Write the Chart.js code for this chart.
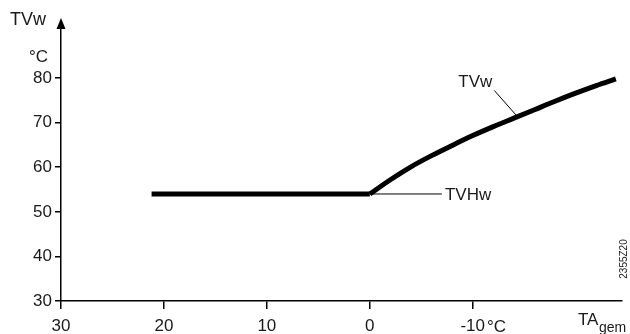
<!DOCTYPE html>
<html>
<head>
<meta charset="utf-8">
<script src="https://cdn.jsdelivr.net/npm/chart.js@4.4.0/dist/chart.umd.min.js"></script>
<style>
  html, body { margin: 0; padding: 0; background: #fff; }
  #wrap { width: 630px; height: 334px; }
</style>
</head>
<body>
<div id="wrap"><canvas id="chart"></canvas></div>
<script>
// flat part (TVHw) and rising part (TVw), outside temp TAgem in °C
const flatX = [21.2, 0];
const flatY = [54, 54];
const curveX = [0, -2, -4, -6, -8, -10, -12, -14, -16, -18, -20, -22, -23.9];
const curveY = [54, 57.2, 60.1, 62.6, 64.9, 67.1, 69.1, 71.0, 72.9, 74.8, 76.6, 78.3, 79.8];
const xTicks = [30, 20, 10, 0, -10];
const yTicks = [30, 40, 50, 60, 70, 80];
// leader lines for the two labels
const tvwLeadX = [-12.1, -14.4];
const tvwLeadY = [77.2, 71.2];
const tvhwLeadX = [0, -7];
const tvhwLeadY = [54, 54];

const FONT = 'Liberation Sans, Arial, sans-serif';
const INK = '#1a1a1a';

function pts(xs, ys) {
    return xs.map((x, i) => ({ x: x, y: ys[i] }));
}

const extras = {
    id: 'extras',
    afterDraw(chart) {
        const ctx = chart.ctx;
        const xs = chart.scales.x;
        const ys = chart.scales.y;
        const area = chart.chartArea;
        ctx.save();
        ctx.fillStyle = '#000';
        // arrow on top of y axis
        ctx.beginPath();
        ctx.moveTo(area.left, area.top - 11);
        ctx.lineTo(area.left - 4.5, area.top);
        ctx.lineTo(area.left + 4.5, area.top);
        ctx.closePath();
        ctx.fill();

        ctx.fillStyle = INK;
        ctx.textBaseline = 'middle';
        ctx.textAlign = 'left';
        ctx.font = '18px ' + FONT;
        ctx.fillText('TVw', 10, 20);
        ctx.font = '17px ' + FONT;
        ctx.fillText('°C', 29, 57);

        // curve labels
        ctx.fillText('TVw', xs.getPixelForValue(-8.6), ys.getPixelForValue(79.0));
        ctx.fillText('TVHw', xs.getPixelForValue(-7.3), ys.getPixelForValue(54) + 1);

        // unit after -10
        ctx.fillText('°C', 487, 327);

        // axis name
        ctx.fillText('TA', 578, 320);
        ctx.font = '14px ' + FONT;
        ctx.fillText('gem', 599, 328);

        // drawing number
        ctx.translate(624, 259);
        ctx.rotate(-Math.PI / 2);
        ctx.textAlign = 'center';
        ctx.font = '10px ' + FONT;
        ctx.fillText('2355Z20', 0, 0);
        ctx.restore();
    }
};

new Chart(document.getElementById('chart'), {
    type: 'line',
    data: {
        datasets: [{
            data: pts(flatX, flatY),
            borderColor: '#000',
            borderWidth: 5,
            borderCapStyle: 'butt',
            pointRadius: 0,
            tension: 0
        }, {
            data: pts(curveX, curveY),
            borderColor: '#000',
            borderWidth: 5,
            borderCapStyle: 'butt',
            pointRadius: 0,
            cubicInterpolationMode: 'monotone'
        }, {
            data: pts(tvwLeadX, tvwLeadY),
            borderColor: '#000',
            borderWidth: 1,
            pointRadius: 0
        }, {
            data: pts(tvhwLeadX, tvhwLeadY),
            borderColor: '#000',
            borderWidth: 1,
            pointRadius: 0
        }]
    },
    options: {
        responsive: true,
        maintainAspectRatio: false,
        animation: false,
        layout: { padding: { top: 29, right: 8, left: 0, bottom: 0 } },
        plugins: {
            legend: { display: false },
            tooltip: { enabled: false }
        },
        scales: {
            x: {
                type: 'linear',
                reverse: true,
                min: -24.5,
                max: 30,
                afterBuildTicks: s => { s.ticks = xTicks.map(v => ({ value: v })); },
                afterFit: s => { s.height = 33; },
                border: { display: true, color: '#000', width: 1.5 },
                grid: { drawOnChartArea: false, drawTicks: true, tickLength: 8, color: '#000', lineWidth: 1.5 },
                ticks: {
                    color: INK,
                    padding: 7,
                    maxRotation: 0,
                    font: { family: FONT, size: 17 },
                    callback: v => String(v)
                }
            },
            y: {
                type: 'linear',
                min: 30,
                max: 91,
                afterBuildTicks: s => { s.ticks = yTicks.map(v => ({ value: v })); },
                afterFit: s => { s.width = 61; },
                border: { display: true, color: '#000', width: 1.5 },
                grid: { drawOnChartArea: false, drawTicks: true, tickLength: 6, color: '#000', lineWidth: 1.5 },
                ticks: {
                    color: INK,
                    padding: 3,
                    font: { family: FONT, size: 17 },
                    callback: v => String(v)
                }
            }
        }
    },
    plugins: [extras]
});
</script>
</body>
</html>
